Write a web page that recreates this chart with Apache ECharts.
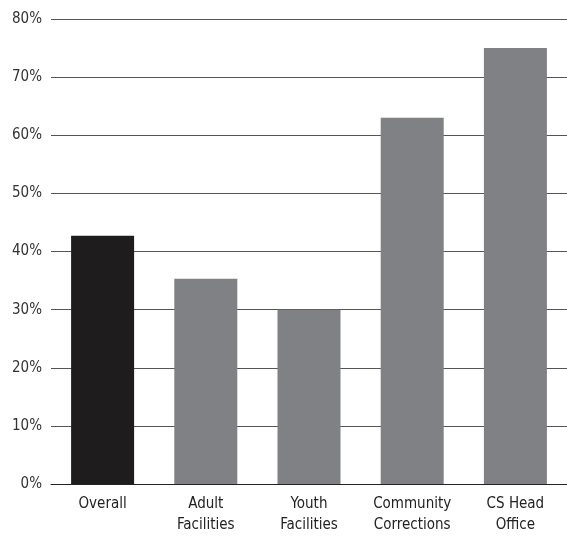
<!DOCTYPE html>
<html>
<head>
<meta charset="utf-8">
<script src="https://cdn.jsdelivr.net/npm/echarts@6/dist/echarts.min.js"></script>
<style>html,body{margin:0;padding:0;background:#fff;}#c{width:567px;height:536px;}</style>
</head>
<body>
<div id="c"></div>
<script>
const categories = ['Overall', 'Adult\nFacilities', 'Youth\nFacilities', 'Community\nCorrections', 'CS Head\nOffice'];
const values = [42.7, 35.3, 30.0, 63.0, 75.0];
const barColors = ['#1e1c1d', '#808184', '#808184', '#808184', '#808184'];
const yTicks = { min: 0, max: 80, interval: 10 };

const font = "'Liberation Sans Narrow', 'DejaVu Sans Condensed', sans-serif";
const chart = echarts.init(document.getElementById('c'), null, { renderer: 'canvas' });
chart.setOption({
  animation: false,
  backgroundColor: '#fff',
  grid: { left: 51, width: 522, top: 19, bottom: 47.5, containLabel: false },
  xAxis: {
    type: 'category',
    data: categories,
    axisLine: { show: true, lineStyle: { color: '#222', width: 1 } },
    axisTick: { show: false },
    axisLabel: { color: '#222', fontFamily: font, fontSize: 15, lineHeight: 21, margin: 10, interval: 0 }
  },
  yAxis: {
    type: 'value',
    min: yTicks.min, max: yTicks.max, interval: yTicks.interval,
    axisLine: { show: false },
    axisTick: { show: false },
    axisLabel: { color: '#333', fontFamily: font, fontSize: 15, margin: 9, formatter: '{value}%' },
    splitLine: { show: true, lineStyle: { color: '#555', width: 1.2 } }
  },
  series: [{
    type: 'bar',
    data: values.map((v, i) => ({ value: v, itemStyle: { color: barColors[i] } })),
    barWidth: 63
  }]
});
</script>
</body>
</html>
